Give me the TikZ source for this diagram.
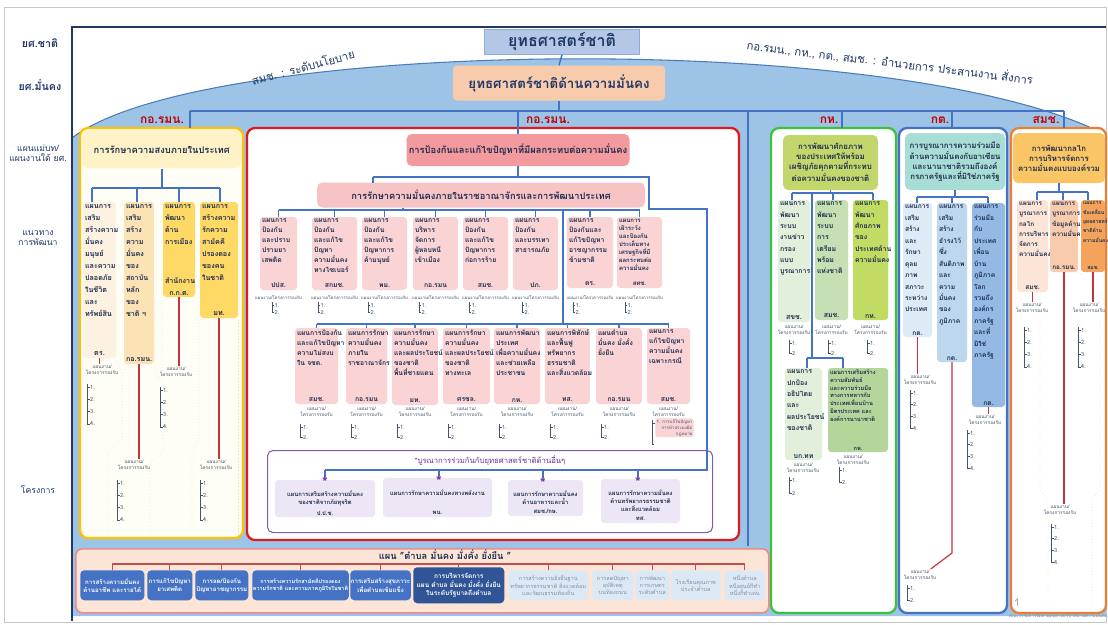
\documentclass[tikz,border=0pt]{standalone}
\usepackage{fontspec}
\setmainfont{Loma}[Script=Thai]
\usetikzlibrary{calc}
\newdimen\pxu \pxu=0.75pt
\definecolor{ink}{HTML}{1F2E4F}
\definecolor{bgblue}{HTML}{9DC3E6}
\definecolor{cDome}{HTML}{4A7EBB}
\definecolor{cFrame}{HTML}{1F3864}
\definecolor{cConn}{HTML}{4472C4}
\definecolor{cRline}{HTML}{C8323C}
\definecolor{cLred}{HTML}{C00000}
\definecolor{cSub}{HTML}{44546A}
\definecolor{cTop}{HTML}{B4C7E7}
\definecolor{cTopB}{HTML}{8FAADC}
\definecolor{cSec}{HTML}{F8CBAD}
\definecolor{cYel}{HTML}{FFC000}
\definecolor{cYelBg}{HTML}{FFFEF6}
\definecolor{cYelH}{HTML}{FFF2C6}
\definecolor{cY1}{HTML}{FDF2E2}
\definecolor{cY2}{HTML}{FCE3B6}
\definecolor{cY3}{HTML}{FFD966}
\definecolor{cRed}{HTML}{E0191F}
\definecolor{cRedH}{HTML}{F29A9D}
\definecolor{cRedS}{HTML}{F7C4C6}
\definecolor{cRedBox}{HTML}{FAD4D5}
\definecolor{cGreen}{HTML}{3CC13C}
\definecolor{cG1}{HTML}{E2EFDA}
\definecolor{cG2}{HTML}{C6E0B4}
\definecolor{cG3}{HTML}{C2DB62}
\definecolor{cGH}{HTML}{C3D66C}
\definecolor{cG5}{HTML}{B4D69A}
\definecolor{cBlueC}{HTML}{4472C4}
\definecolor{cBH}{HTML}{A8DDD5}
\definecolor{cB1}{HTML}{DEEBF7}
\definecolor{cB2}{HTML}{BDD7EE}
\definecolor{cB3}{HTML}{93B9E4}
\definecolor{cOr}{HTML}{ED7D31}
\definecolor{cOH}{HTML}{FAC564}
\definecolor{cO1}{HTML}{FCE4D6}
\definecolor{cO2}{HTML}{F8CBAD}
\definecolor{cO3}{HTML}{F3A35A}
\definecolor{cPur}{HTML}{7F60A8}
\definecolor{cPurBox}{HTML}{ECE6F5}
\definecolor{cPurT}{HTML}{7030A0}
\definecolor{cBar}{HTML}{FCE4D6}
\definecolor{cBarB}{HTML}{EE8A8A}
\definecolor{cK}{HTML}{4472C4}
\definecolor{cK6}{HTML}{2F5597}
\definecolor{cKl}{HTML}{DCE9F5}
\definecolor{cKlT}{HTML}{7F8FA8}
\definecolor{cKline}{HTML}{C0504D}
\definecolor{cDot}{HTML}{E8D9A8}

\newcommand\fY{\fontsize{5.4}{9}\selectfont\bfseries}
\newcommand\fR{\fontsize{5.1}{7.5}\selectfont\bfseries}
\newcommand\fRs{\fontsize{4.5}{6}\selectfont\bfseries}
\newcommand\fG{\fontsize{5.2}{8.5}\selectfont\bfseries}
\newcommand\fGs{\fontsize{4.3}{5.8}\selectfont\bfseries}
\newcommand\fB{\fontsize{5}{8.6}\selectfont\bfseries}
\newcommand\fO{\fontsize{4.8}{7.7}\selectfont\bfseries}
\newcommand\fOs{\fontsize{3.8}{7}\selectfont\bfseries}
\newcommand\fRh{\fontsize{7}{8}\selectfont\bfseries}
\newcommand\fH{\fontsize{5.9}{7.5}\selectfont\bfseries}
\newcommand\fP{\fontsize{4.4}{6}\selectfont\bfseries}
\newcommand\fK{\fontsize{4.6}{5.9}\selectfont\bfseries}
\newcommand\fKs{\fontsize{4.1}{5.6}\selectfont\bfseries}
\newcommand\fKb{\fontsize{4.9}{6.3}\selectfont\bfseries}
\newcommand\fKl{\fontsize{4.2}{5.5}\selectfont}

\tikzset{
 pbox/.style={rounded corners=2.5pt,inner sep=1.5pt,outer sep=0pt,anchor=north west,text=ink},
 hbox/.style={rounded corners=4pt,inner sep=0pt,outer sep=0pt,text=ink},
 colst/.style={anchor=north west,inner sep=0pt,outer sep=0pt,rounded corners=6pt,line width=1.7pt},
 connl/.style={draw=cConn,line width=1.1pt},
 redl/.style={draw=cRline,line width=0.9pt},
 brk/.style={draw=cSub,line width=0.35pt},
 dotl/.style={draw=cDot,line width=0.4pt,dotted},
 subh/.style={font=\fontsize{3.6}{4.5}\selectfont,text=cSub,align=center,inner sep=0.3pt},
 subi/.style={font=\fontsize{4.2}{5}\selectfont,text=cSub,inner sep=0.3pt},
 collab/.style={font=\fontsize{9}{10}\selectfont\bfseries,text=cLred,inner sep=0.5pt},
 lab/.style={text=cFrame,font=\fontsize{6.5}{8}\selectfont,inner sep=0.5pt},
 kbox/.style={anchor=north west,rounded corners=3pt,inner sep=0.5pt,align=center,font=\fK},
 kdark/.style={fill=cK,text=white},
 kdeep/.style={fill=cK6,text=white},
 klight/.style={fill=cKl,text=cKlT,font=\fKl},
 starst/.style={font=\fontsize{11}{11}\selectfont\bfseries,text=cPurT,inner sep=0pt},
}

% box with left text on top and centred agency at the bottom
\newcommand\pbx[9]{\node[pbox,fill=#6,font=#7] (#1) at (#2,#3) {\parbox[c][\dimexpr#5\pxu-3pt\relax][t]{\dimexpr#4\pxu-3pt\relax}{\raggedright #8\par\vfill{\centering #9\par}}};}
% box with centred text
\newcommand\cbx[9]{\node[pbox,fill=#6,font=#7] (#1) at (#2,#3) {\parbox[c][\dimexpr#5\pxu-3pt\relax][t]{\dimexpr#4\pxu-3pt\relax}{\centering #8\par\vfill #9\par}};}
\newcommand\colb[6]{\node[colst,#6,minimum width=#4\pxu,minimum height=#5\pxu] (#1) at (#2,#3) {};}
% stacked sublist: name, head cx, head top, bracket x, first item y, count, spacing
\newcommand\subs[7]{%
 \node[subh,anchor=north] (#1) at (#2,#3) {แผนงาน/\\โครงการรองรับ};
 \draw[brk] (#4,#5-3) -- (#4,{#5+(#6-1)*#7});
 \foreach \i in {1,...,#6}{%
   \draw[brk] (#4,{#5+(\i-1)*#7}) -- ++(2.5,0);
   \node[subi,anchor=west] (#1-\i) at (#4+2.5,{#5+(\i-1)*#7}) {\i.};
 }}
% inline sublist: name, cx, y, bracket x
\newcommand\subr[4]{%
 \node[subh,font=\fontsize{3.3}{4}\selectfont] (#1) at (#2,#3) {แผนงาน/โครงการรองรับ};
 \draw[brk] (#4,#3+4) -- (#4,#3+14);
 \draw[brk] (#4,#3+7) -- ++(2,0);
 \draw[brk] (#4,#3+14) -- ++(2,0);
 \node[subi,anchor=west] (#1-1) at (#4+2,#3+7) {1.};
 \node[subi,anchor=west] (#1-2) at (#4+2,#3+14) {2.};}
\newcommand\kb[7]{\node[kbox,#6,minimum width=#4\pxu,minimum height=#5\pxu] (#1) at (#2,#3) {#7};}

\begin{document}
\begin{tikzpicture}[x=0.75pt,y=-0.75pt]
\useasboundingbox (0,0) rectangle (1108,625);
\fill[white] (0,0) rectangle (1108,625);
\draw[gray!45,line width=0.6pt] (4,7) rectangle (1106,622);
\fill[bgblue] (72,138) .. controls (200,38) and (900,28) .. (1106,135) -- (1106,616) -- (72,616) -- cycle;
\draw[cDome,line width=0.8pt] (72,138) .. controls (200,38) and (900,28) .. (1106,135);
\draw[cFrame,line width=1.3pt] (1106,27) -- (72,27) -- (72,621);

% left labels
\node[lab,font=\fontsize{8}{9}\selectfont\bfseries] (l1) at (40,43) {ยศ.ชาติ};
\node[lab,font=\fontsize{8}{9}\selectfont\bfseries] (l2) at (40,85) {ยศ.มั่นคง};
\node[lab,align=center] (l3) at (38,153) {แผนแม่บท/\\แผนงานใต้ ยศ.};
\node[lab,align=center] (l4) at (38,238) {แนวทาง\\การพัฒนา};
\node[lab] (l5) at (38,490) {โครงการ};

% top
\node[draw=cTopB,fill=cTop,minimum width=155\pxu,minimum height=25\pxu,inner sep=0pt,font=\fontsize{12}{14}\selectfont\bfseries,text=cFrame] (tb) at (562,42) {ยุทธศาสตร์ชาติ};
\node[fill=cSec,rounded corners=3pt,minimum width=212\pxu,minimum height=35\pxu,inner sep=0pt,font=\fontsize{10}{12}\selectfont\bfseries,text=cFrame] (sb) at (559,83) {ยุทธศาสตร์ชาติด้านความมั่นคง};
\node[rotate=15,text=cFrame,font=\fontsize{8.5}{10}\selectfont] (tl) at (303,67) {สมช. : ระดับนโยบาย};
\node[rotate=-7,text=cFrame,font=\fontsize{8.5}{10}\selectfont] (tr) at (890,62) {กอ.รมน., กห., กต., สมช. : อำนวยการ ประสานงาน สั่งการ};

% columns
\colb{cY}{80}{128}{163}{410}{draw=cYel,fill=cYelBg}
\colb{cR}{247}{128}{492}{412}{draw=cRed,fill=white}
\colb{cG}{771}{128}{125}{485}{draw=cGreen,fill=white}
\colb{cB}{899}{128}{108}{485}{draw=cBlueC,fill=white}
\colb{cO}{1011}{128}{95}{485}{draw=cOr,fill=white}

% top connectors
\coordinate (hl) at (190,111); \coordinate (hm) at (518,111); \coordinate (hd) at (748,111);
\coordinate (hg) at (842,111); \coordinate (hb) at (952,111); \coordinate (hr) at (1064,111);
\coordinate (hdb) at (748,546);
\draw[connl] (tb.south) -- (sb.north);
\draw[connl] (sb.south) -- (sb.south |- hl);
\draw[connl] (hl) -- (hr);
\draw[connl] (hl) -- (hl |- cY.north);
\draw[connl] (hd) -- (hdb);
\draw[connl] (hg) -- (hg |- cG.north);
\draw[connl] (hb) -- (hb |- cB.north);
\draw[connl] (hr) -- (hr |- cO.north);

\node[collab] (ca) at (162,120) {กอ.รมน.};
\node[collab] (cb) at (548,120) {กอ.รมน.};
\node[collab] (cc) at (829,120) {กห.};
\node[collab] (cd) at (940,120) {กต.};
\node[collab] (ce) at (1046,120) {สมช.};

% ---------------- yellow column
\draw[dotl] (116,300) -- (116,360) -- (122,372) -- (122,440) -- (108,452) -- (108,535);
\draw[dotl] (155,300) -- (155,372) -- (163,384) -- (163,452) -- (150,464) -- (150,535);
\draw[dotl] (162,300) -- (162,372) -- (156,380);
\draw[dotl] (199,320) -- (199,440) -- (192,452) -- (192,535);
\draw[dotl] (238,320) -- (238,535);
\node[fill=cYelH,rounded corners=4pt,minimum width=159\pxu,minimum height=38\pxu,anchor=north west,inner sep=0pt,font=\fontsize{7}{8}\selectfont\bfseries,text=ink] (yh) at (82,130) {การรักษาความสงบภายในประเทศ};
\pbx{yb1}{83}{202}{33}{156}{cY1}{\fY}{แผนการ\\เสริม\\สร้างความ\\มั่นคง\\มนุษย์\\และความ\\ปลอดภัย\\ในชีวิต\\และ\\ทรัพย์สิน}{ตร.}
\pbx{yb2}{124}{202}{30}{162}{cY2}{\fY}{แผนการ\\เสริม\\สร้าง\\ความ\\มั่นคง\\ของ\\สถาบัน\\หลัก\\ของ\\ชาติ ฯ}{กอ.รมน.}
\pbx{yb3}{163}{202}{32}{95}{cY3}{\fY}{แผนการ\\พัฒนา\\ด้าน\\การเมือง}{สำนักงาน\\ก.ก.ต.}
\pbx{yb4}{200}{202}{38}{116}{cY3}{\fY}{แผนการ\\สร้างความ\\รักความ\\สามัคคี\\ปรองดอง\\ของคน\\ในชาติ}{มท.}
\coordinate (yj1) at (92,188); \coordinate (yj2) at (137,188); \coordinate (yj3) at (179,188); \coordinate (yj4) at (220,188);
\draw[connl] (yh.south) -- (yh.south |- yj1);
\draw[connl] (yj1) -- (yj4);
\draw[connl] (yj1) -- (yj1 |- yb1.north);
\draw[connl] (yj2) -- (yj2 |- yb2.north);
\draw[connl] (yj3) -- (yj3 |- yb3.north);
\draw[connl] (yj4) -- (yj4 |- yb4.north);
\subs{sy1}{102}{364}{87}{387}{4}{12.3}
\subs{sy2}{134}{459}{117}{483}{4}{12.3}
\subs{sy3}{176}{366}{160}{390}{4}{12.3}
\subs{sy4}{216}{459}{200}{483}{4}{12.3}
\draw[redl] (yb1.south) -- (yb1.south |- sy1.north);
\draw[redl] (yb2.south) -- (yb2.south |- sy2.north);
\draw[redl] (yb3.south) -- (yb3.south |- sy3.north);
\draw[redl] (yb4.south) -- (yb4.south |- sy4.north);

% ---------------- red column
\node[hbox,fill=cRedH,minimum width=223\pxu,minimum height=32\pxu,font=\fRh] (rh1) at (518,150) {การป้องกันและแก้ไขปัญหาที่มีผลกระทบต่อความมั่นคง};
\node[hbox,fill=cRedS,minimum width=328\pxu,minimum height=25\pxu,font=\fRh] (rh2) at (481,195) {การรักษาความมั่นคงภายในราชอาณาจักรและการพัฒนาประเทศ};
\draw[connl] (hm) -- (rh1.north);

\pbx{r1a}{260}{217}{37}{73}{cRedBox}{\fR}{แผนการ\\ป้องกัน\\และปราบ\\ปรามยา\\เสพติด}{ปปส.}
\pbx{r1b}{312}{217}{45}{73}{cRedBox}{\fR}{แผนการ\\ป้องกัน\\และแก้ไข\\ปัญหา\\ความมั่นคง\\ทางไซเบอร์}{สกมช.}
\pbx{r1c}{362}{217}{45}{73}{cRedBox}{\fR}{แผนการ\\ป้องกัน\\และแก้ไข\\ปัญหาการ\\ค้ามนุษย์}{พม.}
\pbx{r1d}{413}{217}{45}{73}{cRedBox}{\fR}{แผนการ\\บริหาร\\จัดการ\\ผู้หลบหนี\\เข้าเมือง}{กอ.รมน}
\pbx{r1e}{463}{217}{45}{73}{cRedBox}{\fR}{แผนการ\\ป้องกัน\\และแก้ไข\\ปัญหาการ\\ก่อการร้าย}{สมช.}
\pbx{r1f}{513}{217}{45}{73}{cRedBox}{\fR}{แผนการ\\ป้องกัน\\และบรรเทา\\สาธารณภัย}{ปภ.}
\pbx{r1g}{567}{217}{46}{71}{cRedBox}{\fR}{แผนการ\\ป้องกันและ\\แก้ไขปัญหา\\อาชญากรรม\\ข้ามชาติ}{ตร.}
\pbx{r1h}{617}{217}{45}{71}{cRedBox}{\fRs}{แผนการ\\เฝ้าระวัง\\และป้องกัน\\ประเด็นทาง\\เศรษฐกิจที่มี\\ผลกระทบต่อ\\ความมั่นคง}{สศช.}
\subr{sr1a}{278.5}{298}{272}
\subr{sr1b}{334.5}{298}{318}
\subr{sr1c}{384.5}{298}{368}
\subr{sr1d}{435.5}{298}{419}
\subr{sr1e}{485.5}{298}{469}
\subr{sr1f}{535.5}{298}{522}
\subr{sr1g}{590}{298}{573}
\subr{sr1h}{639.5}{298}{625}

\pbx{r2a}{295}{328}{43}{76}{cRedBox}{\fR}{แผนการป้องกัน\\และแก้ไขปัญหา\\ความไม่สงบ\\ใน จชต.}{สมช.}
\pbx{r2b}{346}{328}{41}{76}{cRedBox}{\fR}{แผนการรักษา\\ความมั่นคง\\ภายใน\\ราชอาณาจักร}{กอ.รมน}
\pbx{r2c}{392}{328}{46}{77}{cRedBox}{\fR}{แผนการรักษา\\ความมั่นคง\\และผลประโยชน์\\ของชาติ\\พื้นที่ชายแดน}{มท.}
\pbx{r2d}{443}{328}{47}{76}{cRedBox}{\fR}{แผนการรักษา\\ความมั่นคง\\และผลประโยชน์\\ของชาติ\\ทางทะเล}{ศรชล.}
\pbx{r2e}{494}{328}{46}{76}{cRedBox}{\fR}{แผนการพัฒนา\\ประเทศ\\เพื่อความมั่นคง\\และช่วยเหลือ\\ประชาชน}{กห.}
\pbx{r2f}{545}{328}{45}{76}{cRedBox}{\fR}{แผนการพิทักษ์\\และฟื้นฟู\\ทรัพยากร\\ธรรมชาติ\\และสิ่งแวดล้อม}{ทส.}
\pbx{r2g}{596}{328}{46}{76}{cRedBox}{\fR}{แผนตำบล\\มั่นคง มั่งคั่ง\\ยั่งยืน}{กอ.รมน}
\pbx{r2h}{647}{328}{43}{76}{cRedBox}{\fR}{แผนการ\\แก้ไขปัญหา\\ความมั่นคง\\เฉพาะกรณี}{สมช.}
\subs{sr2a}{316.5}{406}{300}{427}{2}{10}
\subs{sr2b}{366.5}{406}{351}{427}{2}{10}
\subs{sr2c}{415}{406}{397}{427}{2}{10}
\subs{sr2d}{466.5}{406}{448}{427}{2}{10}
\subs{sr2e}{517}{406}{499}{427}{2}{10}
\subs{sr2f}{567.5}{406}{550}{427}{2}{10}
\subs{sr2g}{619}{406}{601}{427}{2}{10}
\node[subh,anchor=north] (sr2h) at (668.5,406) {แผนงาน/\\โครงการรองรับ};
\node[fill=cRedBox,rounded corners=2pt,anchor=north west,inner sep=1pt,align=right,font=\fontsize{3.3}{4.3}\selectfont,text=cSub] (sr2h-1) at (655,418) {1. การแก้ไขปัญหา\\การทำประมงผิด\\กฎหมาย};
\draw[brk] (652,420) -- (652,444);
\draw[brk] (652,423) -- (655,423);
\draw[brk] (652,444) -- (654,444);

% purple box
\node[draw=cPur,line width=0.8pt,rounded corners=4pt,minimum width=445\pxu,minimum height=82\pxu,anchor=north west,inner sep=0pt,fill=white] (pbx) at (267,450) {};
\node[font=\fontsize{5.8}{7}\selectfont,text=cPurT] (ptt) at (490,461) {*บูรณาการร่วมกันกับยุทธศาสตร์ชาติด้านอื่นๆ};
\cbx{pb1}{275}{480}{100}{37}{cPurBox}{\fP}{\vspace*{6.5pt}แผนการเสริมสร้างความมั่นคง\\ของชาติจากภัยทุจริต}{ป.ป.ช.}
\cbx{pb2}{383}{478}{109}{39}{cPurBox}{\fP}{\vspace*{7pt}แผนการรักษาความมั่นคงทางพลังงาน}{พน.}
\cbx{pb3}{508}{480}{75}{36}{cPurBox}{\fP}{\vspace*{6.5pt}แผนการรักษาความมั่นคง\\ด้านอาหารและน้ำ}{สมช./กษ.}
\cbx{pb4}{601}{479}{79}{44}{cPurBox}{\fP}{\vspace*{6.5pt}แผนการรักษาความมั่นคง\\ด้านทรัพยากรธรรมชาติ\\และสิ่งแวดล้อม}{ทส.}
\coordinate (sg1) at (325,477); \coordinate (sg2) at (439,476); \coordinate (sg3) at (543,478); \coordinate (sg4) at (638,477);

% red column connectors
\coordinate (ra) at (373,177); \coordinate (rb) at (649,177); \coordinate (rc) at (649,209);
\coordinate (rd) at (707,209); \coordinate (re) at (707,470); \coordinate (rf) at (325,470);
\coordinate (sd2) at (439,470); \coordinate (sd3) at (543,470); \coordinate (sd4) at (638,470);
\draw[connl] (rh1.south) -- (rh1.south |- ra);
\draw[connl] (ra) -- (rb) -- (rc) -- (rd) -- (re) -- (rf);
\draw[connl] (ra) -- (ra |- rh2.north);
\draw[connl] (rf) -- (sg1);
\draw[connl] (sd2) -- (sg2);
\draw[connl] (sd3) -- (sg3);
\draw[connl] (sd4) -- (sg4);
\node[starst,anchor=north] (st1) at (sg1) {*};
\node[starst,anchor=north] (st2) at (sg2) {*};
\node[starst,anchor=north] (st3) at (sg3) {*};
\node[starst,anchor=north] (st4) at (sg4) {*};
\coordinate (rs) at (403,210); \coordinate (sp1) at (563,210); \coordinate (sp2) at (563,324);
\draw[connl] (rs |- rh2.south) -- (rs);
\draw[connl] (r1a.north |- rs) -- (r1h.north |- rs);
\foreach \n in {r1a,r1b,r1c,r1d,r1e,r1f,r1g,r1h} \draw[connl] (\n.north |- rs) -- (\n.north);
\draw[connl] (sp1) -- (sp2);
\draw[connl] (r2a.north |- sp2) -- (r2h.north |- sp2);
\foreach \n in {r2a,r2b,r2c,r2d,r2e,r2f,r2g,r2h} \draw[connl] (\n.north |- sp2) -- (\n.north);

% ---------------- green column
\node[hbox,fill=cGH,minimum width=95\pxu,minimum height=55\pxu,anchor=north west,align=center,font=\fH] (gh) at (783,135) {การพัฒนาศักยภาพ\\ของประเทศให้พร้อม\\เผชิญภัยคุกคามที่กระทบ\\ต่อความมั่นคงของชาติ};
\pbx{g1}{778}{200}{32}{122}{cG1}{\fG}{แผนการ\\พัฒนา\\ระบบ\\งานข่าว\\กรอง\\แบบ\\บูรณาการ}{สขช.}
\pbx{g2}{815}{200}{33}{120}{cG2}{\fG}{แผนการ\\พัฒนา\\ระบบ\\การ\\เตรียม\\พร้อม\\แห่งชาติ}{สมช.}
\pbx{g3}{853}{200}{35}{120}{cG3}{\fG}{แผนการ\\พัฒนา\\ศักยภาพ\\ของ\\ประเทศด้าน\\ความมั่นคง}{กห.}
\pbx{g4}{785}{368}{37}{92}{cG1}{\fG}{แผนการ\\ปกป้อง\\อธิปไตย\\และ\\ผลประโยชน์\\ของชาติ}{บก.ทท}
\pbx{g5}{828}{368}{60}{84}{cG5}{\fGs}{แผนการเสริมสร้าง\\ความสัมพันธ์\\และความร่วมมือ\\ทางการทหารกับ\\ประเทศเพื่อนบ้าน\\มิตรประเทศ และ\\องค์การนานาชาติ}{กห.}
\coordinate (gj1) at (792,193); \coordinate (gj2) at (833,193); \coordinate (gj3) at (873,193);
\coordinate (gsp) at (812,193); \coordinate (gsp2) at (812,358);
\coordinate (gk1) at (807,358); \coordinate (gk2) at (843,358);
\draw[connl] (gh.south) -- (gh.south |- gj1);
\draw[connl] (gj1) -- (gj3);
\draw[connl] (gj1) -- (gj1 |- g1.north);
\draw[connl] (gj2) -- (gj2 |- g2.north);
\draw[connl] (gj3) -- (gj3 |- g3.north);
\draw[connl] (gsp) -- (gsp2);
\draw[connl] (gk1) -- (gk2);
\draw[connl] (gk1) -- (gk1 |- g4.north);
\draw[connl] (gk2) -- (gk2 |- g5.north);
\subs{sg1l}{794}{324}{789}{343}{2}{10}
\subs{sg2l}{831.5}{324}{828}{343}{2}{10}
\subs{sg3l}{870.5}{324}{867}{343}{2}{10}
\subs{sg4l}{803}{462}{789}{480}{2}{13}
\subs{sg5l}{853}{454}{839}{470}{2}{12}

% ---------------- blue column
\node[hbox,fill=cBH,minimum width=100\pxu,minimum height=57\pxu,anchor=north west,align=center,font=\fH] (bh) at (905,133) {การบูรณาการความร่วมมือ\\ด้านความมั่นคงกับอาเซียน\\และนานาชาติรวมถึงองค์\\กรภาครัฐและที่มิใช่ภาครัฐ};
\pbx{b1}{903}{203}{29}{134}{cB1}{\fB}{แผนการ\\เสริม\\สร้าง\\และ\\รักษา\\ดุลย\\ภาพ\\สภาวะ\\ระหว่าง\\ประเทศ}{กต.}
\pbx{b2}{937}{203}{30}{159}{cB2}{\fB}{แผนการ\\เสริม\\สร้าง\\ธำรงไว้\\ซึ่ง\\สันติภาพ\\และ\\ความ\\มั่นคง\\ของ\\ภูมิภาค}{กต.}
\pbx{b3}{972}{203}{33}{204}{cB3}{\fB}{แผนการ\\ร่วมมือ\\กับ\\ประเทศ\\เพื่อน\\บ้าน\\ภูมิภาค\\โลก\\รวมถึง\\องค์กร\\ภาครัฐ\\และที่\\มิใช่\\ภาครัฐ}{กต.}
\coordinate (bj1) at (917,197); \coordinate (bj2) at (952,197); \coordinate (bj3) at (988,197);
\draw[connl] (bh.south) -- (bh.south |- bj1);
\draw[connl] (bj1) -- (bj3);
\draw[connl] (bj1) -- (bj1 |- b1.north);
\draw[connl] (bj2) -- (bj2 |- b2.north);
\draw[connl] (bj3) -- (bj3 |- b3.north);
\subs{sb1}{920}{374}{910}{393}{4}{11.7}
\subs{sb2}{920}{569}{907}{588}{2}{12}
\subs{sb3}{985}{414}{967}{433}{4}{11.7}
\coordinate (b2k) at (952,553);
\draw[redl] (b1.south) -- (b1.south |- sb1.north);
\draw[redl] (b2.south) -- (b2k) -- ([xshift=8pt]sb2.north);
\draw[redl] (b3.south) -- (b3.south |- sb3.north);

% ---------------- orange column
\draw[dotl] (1050,272) -- (1040,296) -- (1040,490) -- (1048,500) -- (1048,605);
\draw[dotl] (1078,272) -- (1100,296) -- (1100,490) -- (1092,500) -- (1092,605);
\node[hbox,fill=cOH,minimum width=92\pxu,minimum height=50\pxu,anchor=north west,align=center,font=\fH] (oh) at (1013,133) {การพัฒนากลไก\\การบริหารจัดการ\\ความมั่นคงแบบองค์รวม};
\pbx{o1}{1017}{200}{31}{92}{cO1}{\fO}{แผนการ\\บูรณาการ\\กลไก\\การบริหาร\\จัดการ\\ความมั่นคง}{สมช.}
\pbx{o2}{1050}{200}{28}{72}{cO2}{\fO}{แผนการ\\บูรณาการ\\ข้อมูลด้าน\\ความมั่นคง}{กอ.รมน.}
\pbx{o3}{1081}{200}{24}{72}{cO3}{\fOs}{แผนการ\\ขับเคลื่อน\\ยุทธศาสตร์\\ชาติด้าน\\ความมั่นคง}{สมช.}
\coordinate (oj1) at (1037,192); \coordinate (oj2) at (1063,192); \coordinate (oj3) at (1088,192);
\draw[connl] (oh.south) -- (oh.south |- oj1);
\draw[connl] (oj1) -- (oj3);
\draw[connl] (oj1) -- (oj1 |- o1.north);
\draw[connl] (oj2) -- (oj2 |- o2.north);
\draw[connl] (oj3) -- (oj3 |- o3.north);
\subs{so1}{1032}{302}{1024}{330}{4}{12.3}
\subs{so3}{1089}{302}{1078}{330}{4}{12.3}
\subs{so2}{1060}{504}{1051}{527}{4}{11.7}
\draw[redl] (o1.south) -- (o1.south |- so1.north);
\draw[redl] (o2.south) -- (o2.south |- so2.north);
\draw[redl] (o3.south) -- (o3.south |- so3.north);
\node[font=\fontsize{8}{9}\selectfont,text=gray!70] (pg) at (1017,603) {1};

% ---------------- bottom bar
\node[draw=cBarB,fill=cBar,line width=1.2pt,rounded corners=5pt,minimum width=693\pxu,minimum height=64\pxu,anchor=north west,inner sep=0pt] (bar) at (75,548) {};
\node[font=\fontsize{7}{8}\selectfont\bfseries,text=ink] (bart) at (445,555) {แผน "ตำบล มั่นคง มั่งคั่ง ยั่งยืน "};
\kb{k1}{80}{570}{64}{30}{kdark}{การสร้างความมั่นคง\\ด้านอาชีพ และรายได้}
\kb{k2}{147}{570}{45}{30}{kdark}{การแก้ไขปัญหา\\ยาเสพติด}
\kb{k3}{195}{570}{53}{30}{kdark}{การลด/ป้องกัน\\ปัญหาอาชญากรรม}
\kb{k4}{252}{570}{95}{30}{kdark,font=\fKs}{การสร้างความรักสามัคคีปรองดอง\\ความรักชาติ และความภาคภูมิใจในชาติ}
\kb{k5}{350}{570}{60}{30}{kdark}{การเสริมสร้างสุขภาวะ\\เพื่อตำบลเข้มแข็ง}
\kb{k6}{413}{567}{91}{36}{kdeep,font=\fKb}{การบริหารจัดการ\\แผน ตำบล มั่นคง มั่งคั่ง ยั่งยืน\\ในระดับรัฐบาลถึงตำบล}
\kb{k7}{508}{570}{80}{30}{klight}{การสร้างความยั่งยืนฐาน\\ทรัพยากรธรรมชาติ สิ่งแวดล้อม\\และวัฒนธรรมท้องถิ่น}
\kb{k8}{592}{570}{41}{30}{klight}{การลดปัญหา\\อุบัติเหตุ\\บนท้องถนน}
\kb{k9}{635}{570}{34}{30}{klight}{การพัฒนา\\การเกษตร\\ระดับตำบล}
\kb{k10}{671}{570}{49}{30}{klight}{โรงเรียนคุณภาพ\\ประจำตำบล}
\kb{k11}{724}{570}{41}{30}{klight}{หนึ่งตำบล\\หนึ่งศูนย์กีฬา\\หนึ่งกีฬาเด่น}
\coordinate (kh) at (0,564);
\draw[draw=cKline,line width=0.8pt] (k1.north |- kh) -- (k11.north |- kh);
\foreach \kk in {k1,k2,k3,k4,k5,k6,k7,k8,k9,k10,k11} \draw[draw=cKline,line width=0.8pt] (\kk.north |- kh) -- (\kk.north);

\node[font=\fontsize{3.3}{4}\selectfont,text=gray] (note) at (1058,616) {คณะกรรมการจัดทำยุทธศาสตร์ชาติด้านความมั่นคง};
\end{tikzpicture}
\end{document}
